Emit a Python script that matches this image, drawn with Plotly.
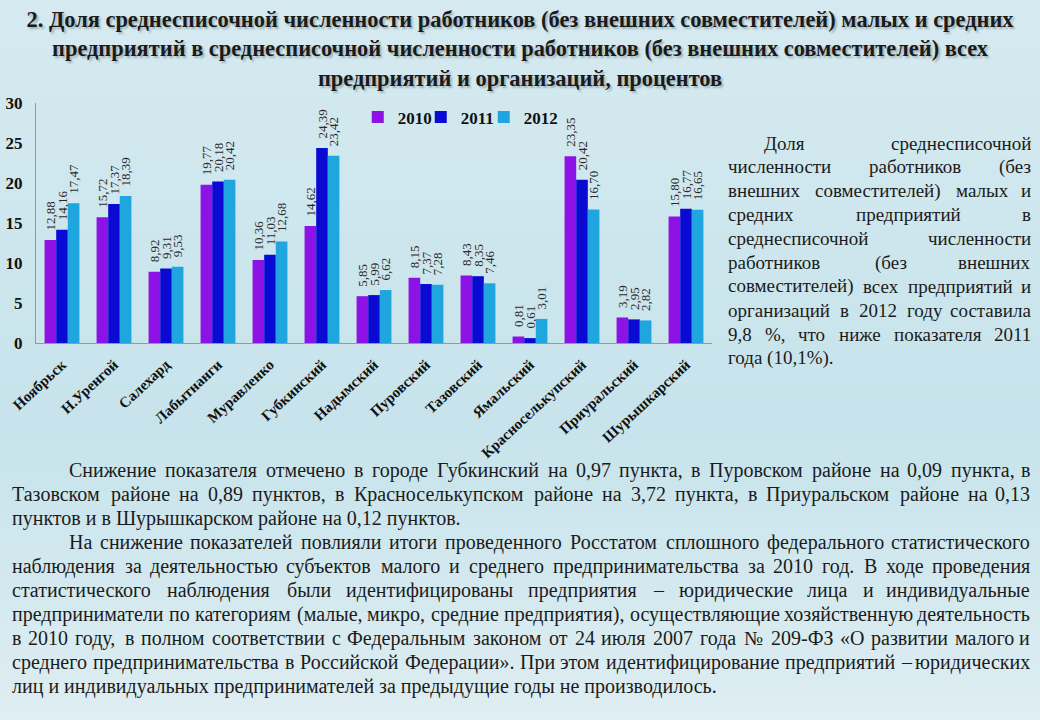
import plotly.graph_objects as go

# ---------------- data ----------------
categories = ["Ноябрьск", "Н.Уренгой", "Салехард", "Лабытнанги", "Муравленко",
              "Губкинский", "Надымский", "Пуровский", "Тазовский", "Ямальский",
              "Красноселькупский", "Приуральский", "Шурышкарский"]
years = ["2010", "2011", "2012"]
values_2010 = [12.88, 15.72, 8.92, 19.77, 10.36, 14.62, 5.85, 8.15, 8.43, 0.81, 23.35, 3.19, 15.80]
values_2011 = [14.16, 17.37, 9.31, 20.18, 11.03, 24.39, 5.99, 7.37, 8.35, 0.61, 20.42, 2.95, 16.77]
values_2012 = [17.47, 18.39, 9.53, 20.42, 12.68, 23.42, 6.62, 7.28, 7.46, 3.01, 16.70, 2.82, 16.65]
y_ticks = [0, 5, 10, 15, 20, 25, 30]

title_lines = [
    "2. Доля среднесписочной численности работников (без внешних совместителей) малых и средних",
    "предприятий в среднесписочной численности работников (без внешних совместителей) всех",
    "предприятий и организаций, процентов",
]

side_lines = [
    "Доля среднесписочной",
    "численности работников (без",
    "внешних совместителей) малых и",
    "средних предприятий в",
    "среднесписочной численности",
    "работников (без внешних",
    "совместителей) всех предприятий и",
    "организаций в 2012 году составила",
    "9,8 %, что ниже показателя 2011",
    "года (10,1%).",
]

body_lines = [
    "Снижение показателя отмечено в городе Губкинский на 0,97 пункта, в Пуровском районе на 0,09 пункта, в",
    "Тазовском районе на 0,89 пунктов, в Красноселькупском районе на 3,72 пункта, в Приуральском районе на 0,13",
    "пунктов и в Шурышкарском районе на 0,12 пунктов.",
    "На снижение показателей повлияли итоги проведенного Росстатом сплошного федерального статистического",
    "наблюдения за деятельностью субъектов малого и среднего предпринимательства за 2010 год. В ходе проведения",
    "статистического наблюдения были идентифицированы предприятия – юридические лица и индивидуальные",
    "предприниматели по категориям (малые, микро, средние предприятия), осуществляющие хозяйственную деятельность",
    "в 2010 году, в полном соответствии с Федеральным законом от 24 июля 2007 года № 209-ФЗ «О развитии малого и",
    "среднего предпринимательства в Российской Федерации». При этом идентифицирование предприятий – юридических",
    "лиц и индивидуальных предпринимателей за предыдущие годы не производилось.",
]
body_indent = [True, False, False, True, False, False, False, False, False, False]
body_last = [False, False, True, False, False, False, False, False, False, True]

# ---------------- layout constants ----------------
W, H = 1040, 720
ML, MR, MT, MB = 36, 328, 103, 377
PW, PH = W - ML - MR, H - MT - MB
SERIF = "Liberation Serif, Times New Roman, serif"
SIDE_SIZE = 19
BODY_SIZE = 20
colors = ["#8C12E6", "#0A0AD2", "#1FA6DF"]

# approximate Times / Liberation Serif advance widths (1/1000 em)
CW = {}
for ch, w in zip("абвгдеёжзийклмнопрстуфхцчшщъыьэюя",
                 [444, 508, 472, 410, 509, 444, 444, 691, 395, 535, 535, 486, 499, 633, 535, 500,
                  535, 500, 444, 437, 500, 648, 500, 535, 503, 770, 770, 517, 672, 456, 434, 747, 471]):
    CW[ch] = w
for ch, w in zip("АБВГДЕЁЖЗИЙКЛМНОПРСТУФХЦЧШЩЪЫЬЭЮЯ",
                 [722, 574, 667, 578, 682, 611, 611, 896, 501, 722, 722, 678, 702, 889, 722, 722,
                  722, 556, 667, 611, 700, 790, 722, 722, 668, 1004, 1004, 733, 905, 574, 667, 1020, 667]):
    CW[ch] = w
CW.update({" ": 250, ",": 250, ".": 250, "(": 333, ")": 333, "%": 833, "«": 500, "»": 500,
           "–": 560, "-": 333, "№": 1000, ":": 278, ";": 278})
for d in "0123456789":
    CW[d] = 500


def tw(s, size):
    return sum(CW.get(c, 500) for c in s) / 1000.0 * size


def px2x(px):
    return (px - ML) / PW


def py2y(py):
    return (H - MB - py) / PH


annotations = []


def add_line(text, x_left, x_right, y_px, justify, size):
    words = text.split(" ")
    base = dict(xref="paper", yref="paper", showarrow=False, yanchor="middle",
                font=dict(family=SERIF, size=size, color="#1b1b1b"), borderpad=0)
    if not justify or len(words) == 1:
        annotations.append(dict(base, x=px2x(x_left), y=py2y(y_px), text=text, xanchor="left"))
        return
    widths = [tw(w, size) for w in words]
    gap = (x_right - x_left - sum(widths)) / (len(words) - 1)
    x = x_left
    for i, w in enumerate(words):
        if i == len(words) - 1:
            annotations.append(dict(base, x=px2x(x_right), y=py2y(y_px), text=w, xanchor="right"))
        else:
            annotations.append(dict(base, x=px2x(x), y=py2y(y_px), text=w, xanchor="left"))
        x += widths[i] + gap


# side text block
for i, line in enumerate(side_lines):
    left = 763 if i == 0 else 727
    add_line(line, left, 1032, 143 + 23.9 * i, justify=(i < len(side_lines) - 1), size=SIDE_SIZE)

# bottom paragraphs
for i, line in enumerate(body_lines):
    left = 68 if body_indent[i] else 11
    add_line(line, left, 1031, 470 + 24 * i, justify=not body_last[i], size=BODY_SIZE)

# soft vertical background gradient (slide background)
bg_stops = [(0, (213, 234, 240)), (430, (199, 227, 235)), (720, (222, 238, 242))]
shapes = []
band = 12
for top in range(0, H, band):
    mid = top + band / 2
    for (y0, c0), (y1, c1) in zip(bg_stops[:-1], bg_stops[1:]):
        if y0 <= mid <= y1:
            t = (mid - y0) / (y1 - y0)
            c = tuple(round(a + (b - a) * t) for a, b in zip(c0, c1))
            break
    shapes.append(dict(type="rect", xref="paper", yref="paper", layer="below",
                       x0=px2x(0), x1=px2x(W), y0=py2y(top + band + 1), y1=py2y(top),
                       fillcolor="rgb(%d,%d,%d)" % c, line=dict(width=0)))

# ---------------- figure ----------------
fig = go.Figure()
for name, vals, col in zip(years, [values_2010, values_2011, values_2012], colors):
    fig.add_trace(go.Bar(
        name=name, x=categories, y=vals, marker=dict(color=col, line=dict(width=0)),
        texttemplate="\u00a0\u00a0%{y:.2f}", textposition="outside", textangle=-90,
        constraintext="none", cliponaxis=False,
        textfont=dict(family=SERIF, size=13, color="#2a2a2a"),
        legendwidth=40 if name == years[-1] else None,
    ))

fig.update_layout(
    width=W, height=H, autosize=False,
    margin=dict(l=ML, r=MR, t=MT, b=MB, pad=0, autoexpand=False),
    paper_bgcolor="#D0E7EE", plot_bgcolor="rgba(0,0,0,0)",
    separators=", ",
    barmode="group", bargap=0.33, bargroupgap=0,
    title=dict(text="<br>".join(title_lines), x=0.5, xref="container", xanchor="center",
               y=0.962, yref="container", yanchor="top",
               font=dict(family=SERIF, size=22.4, color="#1a1a1a", weight="bold",
                         shadow="2px 2px 2px #9fb3b9")),
    legend=dict(orientation="h", xref="container", yref="container", x=0.344, y=0.862,
                xanchor="left", yanchor="top", bgcolor="rgba(0,0,0,0)",
                font=dict(family=SERIF, size=17, color="#111", weight="bold"),
                itemwidth=30, entrywidth=18, entrywidthmode="pixels", tracegroupgap=0),
    xaxis=dict(type="category", tickangle=-43, showline=True, linecolor="#8c9da2", linewidth=1,
               ticks="", showgrid=False, ticklabelstandoff=6,
               tickfont=dict(family=SERIF, size=15, color="#111", weight="bold")),
    yaxis=dict(range=[0, 30], tickvals=y_ticks, showline=True, linecolor="#8c9da2", linewidth=1,
               ticks="", showgrid=False, zeroline=False, ticklabelstandoff=9,
               tickfont=dict(family=SERIF, size=17, color="#111", weight="bold")),
    annotations=annotations,
    shapes=shapes,
    showlegend=True,
)

fig.write_html("out.html", config={"displayModeBar": False},
               post_script="document.body.style.margin='0';")
